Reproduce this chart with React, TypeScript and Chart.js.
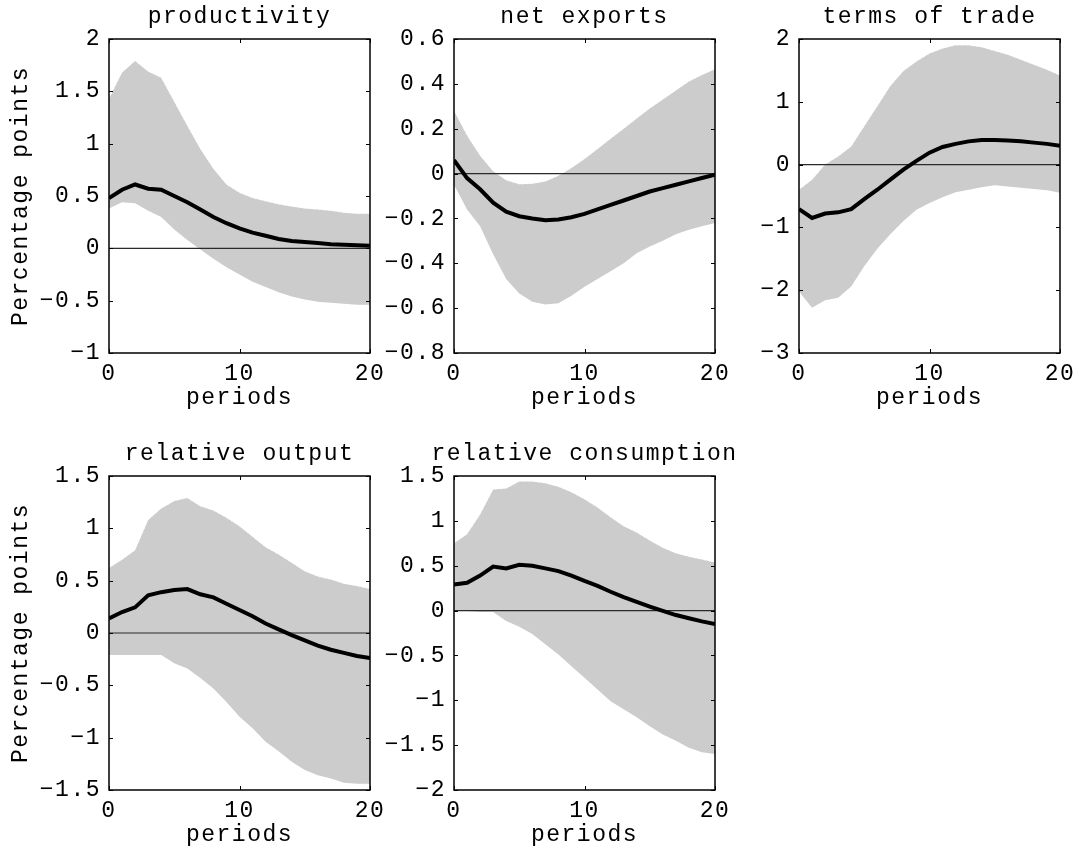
import React, { useEffect, useRef } from 'react';
import { Chart, registerables } from 'chart.js';

Chart.register(...registerables);

// ---------- data ----------
const periods = [0, 1, 2, 3, 4, 5, 6, 7, 8, 9, 10, 11, 12, 13, 14, 15, 16, 17, 18, 19, 20];

const panelTitles = ['productivity', 'net exports', 'terms of trade', 'relative output', 'relative consumption'];

const prodMedian = [0.48, 0.56, 0.61, 0.57, 0.56, 0.5, 0.44, 0.37, 0.3, 0.24, 0.19, 0.15, 0.12, 0.09, 0.07, 0.06, 0.05, 0.04, 0.035, 0.03, 0.025];
const prodUpper = [1.43, 1.68, 1.79, 1.69, 1.63, 1.4, 1.17, 0.95, 0.76, 0.61, 0.53, 0.48, 0.45, 0.42, 0.4, 0.38, 0.37, 0.36, 0.34, 0.33, 0.33];
const prodLower = [0.38, 0.44, 0.43, 0.36, 0.3, 0.18, 0.08, -0.01, -0.1, -0.18, -0.25, -0.32, -0.37, -0.42, -0.46, -0.49, -0.51, -0.52, -0.53, -0.54, -0.54];

const nxMedian = [0.06, -0.02, -0.07, -0.13, -0.17, -0.19, -0.2, -0.208, -0.205, -0.195, -0.18, -0.16, -0.14, -0.12, -0.1, -0.08, -0.065, -0.05, -0.035, -0.02, -0.005];
const nxUpper = [0.28, 0.17, 0.08, 0.01, -0.03, -0.048, -0.045, -0.035, -0.01, 0.025, 0.065, 0.11, 0.155, 0.2, 0.245, 0.29, 0.33, 0.37, 0.41, 0.44, 0.465];
const nxLower = [-0.05, -0.16, -0.235, -0.36, -0.47, -0.535, -0.572, -0.584, -0.578, -0.545, -0.505, -0.47, -0.435, -0.4, -0.355, -0.325, -0.3, -0.27, -0.25, -0.235, -0.22];

const totMedian = [-0.71, -0.85, -0.78, -0.76, -0.71, -0.55, -0.4, -0.24, -0.08, 0.06, 0.19, 0.28, 0.33, 0.37, 0.39, 0.39, 0.385, 0.37, 0.35, 0.33, 0.3];
const totUpper = [-0.4, -0.24, 0.0, 0.13, 0.29, 0.61, 0.93, 1.25, 1.49, 1.64, 1.77, 1.85, 1.9, 1.9, 1.87, 1.81, 1.75, 1.67, 1.59, 1.51, 1.42];
const totLower = [-2.02, -2.28, -2.16, -2.12, -1.94, -1.62, -1.34, -1.11, -0.9, -0.72, -0.61, -0.52, -0.44, -0.4, -0.36, -0.33, -0.35, -0.37, -0.39, -0.41, -0.45];

const outMedian = [0.14, 0.2, 0.245, 0.36, 0.39, 0.41, 0.42, 0.37, 0.34, 0.28, 0.22, 0.16, 0.09, 0.035, -0.02, -0.07, -0.12, -0.16, -0.19, -0.22, -0.24];
const outUpper = [0.62, 0.7, 0.79, 1.08, 1.19, 1.26, 1.29, 1.21, 1.17, 1.1, 1.02, 0.92, 0.82, 0.75, 0.67, 0.59, 0.54, 0.51, 0.47, 0.45, 0.42];
const outLower = [-0.21, -0.21, -0.21, -0.21, -0.21, -0.29, -0.34, -0.43, -0.53, -0.66, -0.8, -0.91, -1.04, -1.13, -1.23, -1.31, -1.36, -1.39, -1.43, -1.44, -1.44];

const consMedian = [0.29, 0.31, 0.39, 0.49, 0.47, 0.51, 0.5, 0.47, 0.44, 0.39, 0.33, 0.275, 0.21, 0.15, 0.097, 0.045, -0.004, -0.05, -0.085, -0.12, -0.15];
const consUpper = [0.75, 0.85, 1.07, 1.35, 1.36, 1.44, 1.44, 1.42, 1.38, 1.32, 1.24, 1.15, 1.04, 0.94, 0.87, 0.78, 0.7, 0.64, 0.6, 0.57, 0.535];
const consLower = [0.0, -0.005, -0.015, -0.015, -0.115, -0.18, -0.26, -0.375, -0.49, -0.62, -0.75, -0.88, -1.01, -1.1, -1.19, -1.29, -1.38, -1.45, -1.53, -1.58, -1.6];

const yRanges = [
  { min: -1, max: 2, step: 0.5 },
  { min: -0.8, max: 0.6, step: 0.2 },
  { min: -3, max: 2, step: 1 },
  { min: -1.5, max: 1.5, step: 0.5 },
  { min: -2, max: 1.5, step: 0.5 },
];

const xTickValues = [0, 10, 20];
const xAxisLabel = 'periods';
const yAxisLabel = 'Percentage points';

// ---------- layout ----------
const FONT = "'Liberation Mono', 'Courier New', monospace";
const FS = 23;
const SPACING = '1.5px';
const L = 109;
const R = 30;
const T = 39;
const B = 62;
const PW = 261;
const PH = 314;

type PanelDef = {
  title: string;
  median: number[];
  upper: number[];
  lower: number[];
  range: { min: number; max: number; step: number };
  left: number;
  top: number;
  showYLabel: boolean;
};

const panels: PanelDef[] = [
  { title: panelTitles[0], median: prodMedian, upper: prodUpper, lower: prodLower, range: yRanges[0], left: 109, top: 39, showYLabel: true },
  { title: panelTitles[1], median: nxMedian, upper: nxUpper, lower: nxLower, range: yRanges[1], left: 454, top: 39, showYLabel: false },
  { title: panelTitles[2], median: totMedian, upper: totUpper, lower: totLower, range: yRanges[2], left: 799, top: 39, showYLabel: false },
  { title: panelTitles[3], median: outMedian, upper: outUpper, lower: outLower, range: yRanges[3], left: 109, top: 476, showYLabel: true },
  { title: panelTitles[4], median: consMedian, upper: consUpper, lower: consLower, range: yRanges[4], left: 454, top: 476, showYLabel: false },
];

const fmt = (v: number) => {
  const r = Math.round(v * 100) / 100;
  const s = String(Math.abs(r) < 1e-9 ? 0 : r);
  return s.replace('-', '\u2212');
};

const setSpacing = (chart: any) => {
  try {
    (chart.ctx as any).letterSpacing = SPACING;
  } catch (e) {
    /* ignore */
  }
};

const framePlugin = {
  id: 'frame',
  beforeInit(chart: any) {
    setSpacing(chart);
  },
  beforeLayout(chart: any) {
    setSpacing(chart);
  },
  beforeDraw(chart: any) {
    setSpacing(chart);
  },
  beforeDatasetDraw(chart: any, args: any) {
    if (args.index !== 0) return;
    const { ctx, chartArea } = chart;
    const y0 = chart.scales.y.getPixelForValue(0);
    ctx.save();
    ctx.strokeStyle = '#2a2a2a';
    ctx.lineWidth = 1.2;
    ctx.beginPath();
    ctx.moveTo(chartArea.left, y0);
    ctx.lineTo(chartArea.right, y0);
    ctx.stroke();
    ctx.restore();
  },
  afterDraw(chart: any) {
    const { ctx, chartArea } = chart;
    const { left, right, top, bottom } = chartArea;
    const xs = chart.scales.x;
    const ys = chart.scales.y;
    ctx.save();
    ctx.strokeStyle = '#000';
    ctx.lineWidth = 1.5;
    ctx.strokeRect(left, top, right - left, bottom - top);
    ctx.lineWidth = 1;
    const tl = 4;
    ctx.beginPath();
    ys.ticks.forEach((t: any) => {
      const p = Math.round(ys.getPixelForValue(t.value)) + 0.5;
      ctx.moveTo(left, p);
      ctx.lineTo(left + tl, p);
      ctx.moveTo(right, p);
      ctx.lineTo(right - tl, p);
    });
    xs.ticks.forEach((t: any) => {
      const p = Math.round(xs.getPixelForValue(t.value)) + 0.5;
      ctx.moveTo(p, bottom);
      ctx.lineTo(p, bottom - tl);
      ctx.moveTo(p, top);
      ctx.lineTo(p, top + tl);
    });
    ctx.stroke();
    // panel title
    ctx.fillStyle = '#000';
    ctx.font = `${FS}px ${FONT}`;
    ctx.textAlign = 'center';
    ctx.textBaseline = 'middle';
    ctx.fillText(chart.options.plugins.frame.title, (left + right) / 2, top - 22);
    ctx.restore();
  },
};

function makeChart(canvas: HTMLCanvasElement, p: PanelDef) {
  const pts = (arr: number[]) => periods.map((x, i) => ({ x, y: arr[i] }));
  return new Chart(canvas, {
    type: 'line',
    data: {
      datasets: [
        {
          data: pts(p.median),
          borderColor: '#000',
          borderWidth: 4,
          pointRadius: 0,
          fill: false,
          tension: 0,
        },
        {
          data: pts(p.upper),
          borderColor: 'rgba(255,255,255,0.6)',
          borderWidth: 1,
          borderDash: [1, 4],
          backgroundColor: 'rgb(204,204,204)',
          pointRadius: 0,
          fill: '+1',
          tension: 0,
        },
        {
          data: pts(p.lower),
          borderColor: 'rgba(255,255,255,0.6)',
          borderWidth: 1,
          borderDash: [1, 4],
          pointRadius: 0,
          fill: false,
          tension: 0,
        },
      ],
    },
    options: {
      animation: false,
      responsive: false,
      events: [],
      layout: { padding: { top: T, right: R, bottom: 0, left: 0 } },
      plugins: {
        legend: { display: false },
        tooltip: { enabled: false },
        title: { display: false },
        frame: { title: p.title },
      } as any,
      scales: {
        x: {
          type: 'linear',
          min: 0,
          max: 20,
          afterBuildTicks: (scale: any) => {
            scale.ticks = xTickValues.map((v) => ({ value: v }));
          },
          afterFit: (scale: any) => {
            scale.height = B;
            scale.paddingLeft = 0;
            scale.paddingRight = 0;
          },
          grid: { display: false, drawTicks: false },
          border: { display: false },
          ticks: {
            color: '#000',
            font: { family: FONT, size: FS },
            padding: 7,
            maxRotation: 0,
            autoSkip: false,
            callback: (v: any) => fmt(Number(v)),
          },
          title: {
            display: true,
            text: xAxisLabel,
            color: '#000',
            font: { family: FONT, size: FS },
            padding: { top: 0, bottom: 3 },
          },
        },
        y: {
          type: 'linear',
          min: p.range.min,
          max: p.range.max,
          afterBuildTicks: (scale: any) => {
            const n = Math.round((p.range.max - p.range.min) / p.range.step);
            const t: any[] = [];
            for (let i = 0; i <= n; i++) t.push({ value: p.range.min + i * p.range.step });
            scale.ticks = t;
          },
          afterFit: (scale: any) => {
            scale.width = L;
            scale.paddingTop = 0;
            scale.paddingBottom = 0;
          },
          grid: { display: false, drawTicks: false },
          border: { display: false },
          ticks: {
            color: '#000',
            font: { family: FONT, size: FS },
            padding: 8,
            autoSkip: false,
            callback: (v: any) => fmt(Number(v)),
          },
          title: {
            display: p.showYLabel,
            text: yAxisLabel,
            color: '#000',
            font: { family: FONT, size: FS },
            padding: { top: 7, bottom: 0 },
          },
        },
      },
    },
    plugins: [framePlugin],
  } as any);
}

export default function App() {
  const refs = useRef<(HTMLCanvasElement | null)[]>([]);

  useEffect(() => {
    const charts = panels.map((p, i) => makeChart(refs.current[i] as HTMLCanvasElement, p));
    return () => charts.forEach((c) => c.destroy());
  }, []);

  return (
    <div style={{ position: 'absolute', left: 0, top: 0, width: 1079, height: 852, background: '#fff', overflow: 'hidden' }}>
      {panels.map((p, i) => (
        <canvas
          key={i}
          ref={(el) => {
            refs.current[i] = el;
          }}
          width={L + PW + R}
          height={T + PH + B}
          style={{ position: 'absolute', left: p.left - L, top: p.top - T, width: L + PW + R, height: T + PH + B }}
        />
      ))}
    </div>
  );
}
